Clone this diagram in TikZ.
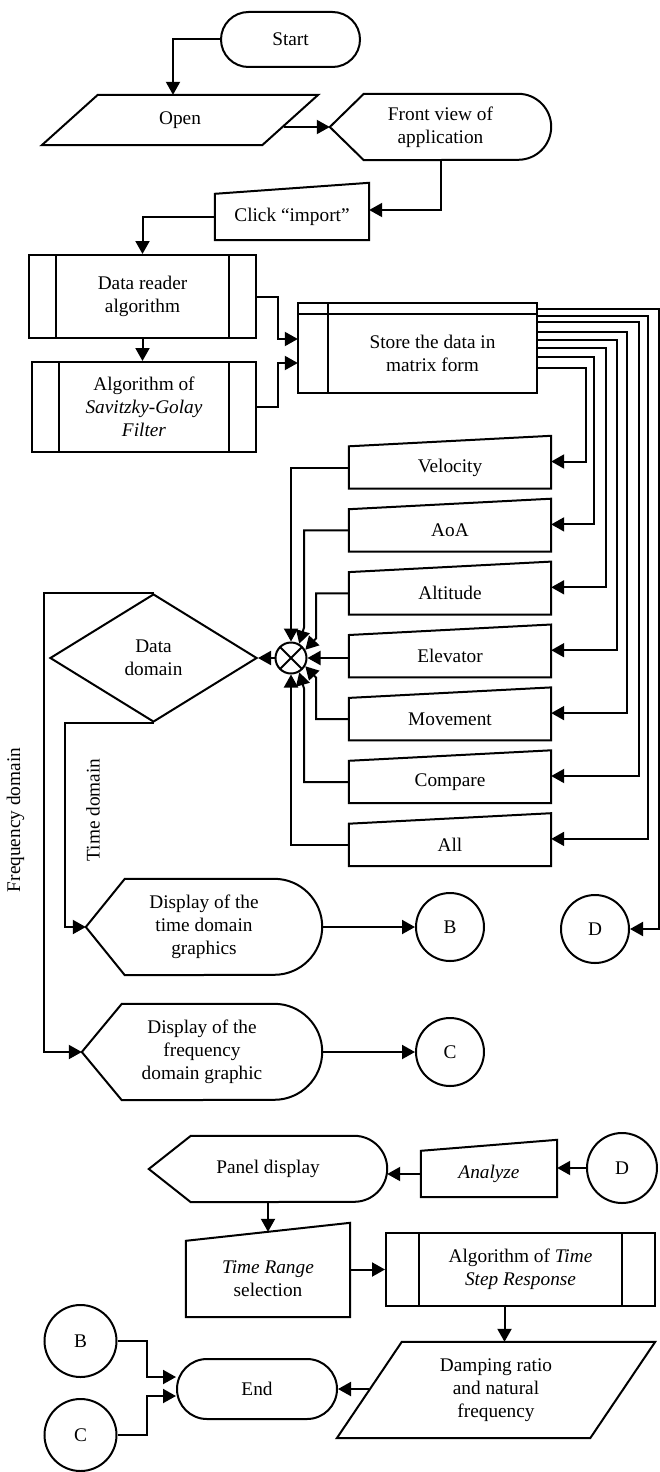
\documentclass[tikz,border=0pt]{standalone}
\usepackage{fontspec}
\setmainfont{Liberation Serif}
\usepackage{tikz}
\usetikzlibrary{
        arrows.meta,
        positioning,
        shapes.geometric,
        shapes.misc
    }

\begin{document}
\begin{tikzpicture}
[x=1pt, y=-1pt,
edgeline/.style={line width=2pt},
bar/.style={line width=1.4pt},
arrow/.style={edgeline, -{Triangle[length=13pt, width=14pt]}},
chart/.style={inner sep=0pt, align=center, font=\fontsize{19.3}{23}\selectfont},
terminal/.style 2 args={chart, draw, edgeline, rounded rectangle, minimum width=#1pt, minimum height=#2pt},
inout/.style args={#1/#2/#3}{chart, minimum width=#1pt, minimum height=#2pt,
  append after command={\pgfextra{\draw[edgeline] (\tikzlastnode.south west) -- ([xshift=-#3pt]\tikzlastnode.south east) -- (\tikzlastnode.north east) -- ([xshift=#3pt]\tikzlastnode.north west) -- cycle;}}},
screen/.style args={#1/#2/#3}{chart, minimum width=#1pt, minimum height=#2pt,
  append after command={\pgfextra{\draw[edgeline] (\tikzlastnode.west) -- ([xshift=#3pt]\tikzlastnode.north west) -- ([xshift=-0.5*#2pt]\tikzlastnode.north east) arc[start angle=90, end angle=-90, radius=0.5*#2pt] -- ([xshift=#3pt]\tikzlastnode.south west) -- cycle;}}},
manualin/.style args={#1/#2/#3}{chart, minimum width=#1pt, minimum height=#2pt,
  append after command={\pgfextra{\draw[edgeline] (\tikzlastnode.south west) -- (\tikzlastnode.south east) -- ([yshift=#3pt]\tikzlastnode.north east) -- (\tikzlastnode.north west) -- cycle;}}},
predef/.style args={#1/#2/#3}{chart, draw, edgeline, minimum width=#1pt, minimum height=#2pt,
  append after command={\pgfextra{\draw[bar] ([xshift=#3pt]\tikzlastnode.north west) -- ([xshift=#3pt]\tikzlastnode.south west) ([xshift=-#3pt]\tikzlastnode.north east) -- ([xshift=-#3pt]\tikzlastnode.south east);}}},
memory/.style={chart, minimum width=209pt, minimum height=79pt,
  append after command={\pgfextra{\draw[edgeline] ([xshift=-30pt,yshift=11pt]\tikzlastnode.north west) rectangle (\tikzlastnode.south east) ([xshift=-30pt]\tikzlastnode.north west) -- (\tikzlastnode.north east) ([yshift=11pt]\tikzlastnode.north west) -- (\tikzlastnode.south west);}}},
decision/.style={chart, draw, edgeline, diamond, minimum width=207pt, minimum height=128pt},
connector/.style={chart, draw, edgeline, circle, minimum size=#1pt},
junction/.style={draw, edgeline, circle, minimum size=31pt, inner sep=0pt,
  path picture={\draw[edgeline] (path picture bounding box.north west) -- (path picture bounding box.south east) (path picture bounding box.north east) -- (path picture bounding box.south west);}},
node distance=20.5pt]
\useasboundingbox (0,0) rectangle (660,1472);

\node[terminal={139}{55}] (start) at (290.5,39.5) {Start};
\node[inout=276/50/56] (open) at (180,120) {Open};
\node[screen=221/66/34] (front) at (440.5,127) {Front view of\\application};
\node[manualin=154/46/11] (click) at (292,217) {Click “import”};
\node[predef=227/83/28] (reader) at (142.5,296.5) {Data reader\\algorithm};
\node[predef=224/90/28] (filter) at (144,407) {Algorithm of\\\textit{Savitzky-Golay}\\\textit{Filter}};
\node[memory] (store) at (432.5,353.5) {Store the data in\\matrix form};

\node[manualin=202/42/10.5] (vel) at (450,467.5) {Velocity};
\node[manualin=202/42/10.5, below=of vel] (aoa) {AoA};
\node[manualin=202/42/10.5, below=of aoa] (alt) {Altitude};
\node[manualin=202/42/10.5, below=of alt] (elev) {Elevator};
\node[manualin=202/42/10.5, below=of elev] (mov) {Movement};
\node[manualin=202/42/10.5, below=of mov] (cmp) {Compare};
\node[manualin=202/42/10.5, below=of cmp] (all) {All};

\node[junction] (sum) at (291,658) {};
\node[decision] (dom) at (153.5,658) {Data\\domain};
\node[chart, rotate=90] (freqlbl) at (15.5,820) {Frequency domain};
\node[chart, rotate=90] (timelbl) at (93,810) {Time domain};

\node[screen=236/96/39] (time) at (204,927) {Display of the\\time domain\\graphics};
\node[screen=240/96/40] (freq) at (202,1052) {Display of the\\frequency\\domain graphic};
\node[connector=68] (b1) at (450,927) {B};
\node[connector=68] (c1) at (450,1052) {C};
\node[connector=68] (d1) at (595,929) {D};

\node[screen=238/66/42] (panel) at (268,1169) {Panel display};
\node[manualin=136/46/11] (analyze) at (489,1174) {\textit{Analyze}};
\node[connector=70] (d2) at (622,1168) {D};
\node[manualin=164/76/18] (range) at (268,1279) {\textit{Time Range}\\selection};
\node[predef=269/73/34] (tsr) at (520.5,1269.5) {Algorithm of \textit{Time}\\\textit{Step Response}};
\node[inout=318/96/65] (damp) at (496,1390) {Damping ratio\\and natural\\frequency};
\node[terminal={160}{60}] (end) at (257,1389) {End};
\node[connector=72] (b2) at (80.5,1341) {B};
\node[connector=72] (c2) at (80.5,1435) {C};

\draw[arrow] (start.west) -| ([xshift=-7pt]open.north);
\draw[arrow] ([xshift=-34pt,yshift=-7pt]open.east) -- (front.west);
\draw[arrow] (front.south) |- ([yshift=7pt]click.east);
\draw[arrow] (click.west) -| (reader.north);
\draw[arrow] (reader.south) -- (reader.south |- filter.north);
\draw[arrow] (reader.east) -- ++(21,0) |- ([xshift=-30pt,yshift=14.5pt]store.west);
\draw[arrow] (filter.east) -- ++(21,0) |- ([xshift=-30pt,yshift=-9.5pt]store.west);

\foreach \tgt/\ys/\xs in {vel/-14.5/35, aoa/-3.5/43, alt/5.5/55, elev/13.5/66, mov/21.5/76, cmp/31.5/88, all/37.5/97}
  \draw[arrow] ([yshift=\ys pt]store.east) -| ([xshift=\xs pt,yshift=6pt]\tgt.east) -- ([yshift=6pt]\tgt.east);
\draw[arrow] ([yshift=44.5pt]store.east) -| ([xshift=29pt]d1.east) -- (d1.east);

\draw[arrow] (vel.west) -| (sum.north);
\draw[arrow] (aoa.west) -| ([xshift=13pt,yshift=14pt]sum.north) -- (sum.60);
\draw[arrow] (alt.west) -| ([xshift=25pt,yshift=3pt]sum.north) -- (sum.30);
\draw[arrow] (elev.west |- sum.east) -- (sum.east);
\draw[arrow] (mov.west) -| ([xshift=25pt,yshift=-3pt]sum.south) -- (sum.-30);
\draw[arrow] (cmp.west) -| ([xshift=13pt,yshift=-14pt]sum.south) -- (sum.-60);
\draw[arrow] (all.west) -| (sum.south);

\draw[arrow] (sum.west) -- (dom.east);
\draw[arrow] (dom.north) -- ++(-110,0) |- (freq.west);
\draw[arrow] (dom.south) -- ++(-89,0) |- (time.west);
\draw[arrow] (time.east) -- (b1.west);
\draw[arrow] (freq.east) -- (c1.west);

\draw[arrow] (d2.west) -- (d2.west -| analyze.east);
\draw[arrow] (analyze.west) -- (analyze.west -| panel.east);
\draw[arrow] (panel.south) -- ([yshift=9pt]range.north);
\draw[arrow] (range.east |- tsr.west) -- (tsr.west);
\draw[arrow] ([xshift=-16pt]tsr.south) -- ([xshift=-16pt]tsr.south |- damp.north);
\draw[arrow] ([xshift=32.5pt,yshift=1pt]damp.west) -- (end.east);
\draw[arrow] (b2.east) -- ++(29,0) |- ([yshift=12pt]end.west);
\draw[arrow] (c2.east) -- ++(29,0) |- ([yshift=-7pt]end.west);
\end{tikzpicture}
\end{document}
